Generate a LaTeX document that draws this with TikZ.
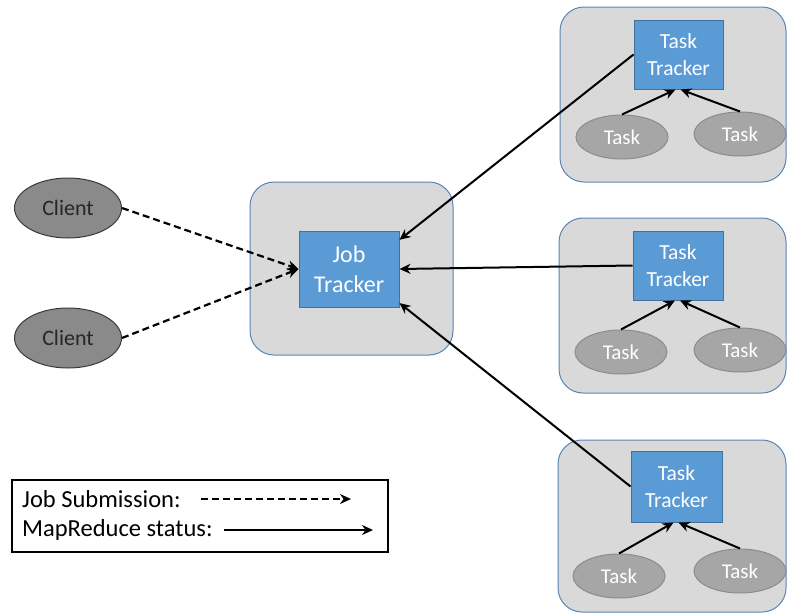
\documentclass[tikz,border=0pt]{standalone}
\usepackage{fontspec}
\setmainfont{Carlito}
\usetikzlibrary{arrows.meta,calc,shapes.geometric}
\definecolor{boxgray}{HTML}{D9D9D9}
\definecolor{boxedge}{HTML}{5A86B4}
\definecolor{trackfill}{HTML}{5B9BD5}
\definecolor{trackedge}{HTML}{41719C}
\definecolor{clientfill}{HTML}{8A8A8A}
\definecolor{clientedge}{HTML}{3A3A3A}
\definecolor{taskfill}{HTML}{A6A6A6}
\definecolor{taskedge}{HTML}{8C8C8C}
\tikzset{
  x=1pt, y=-1pt,
  holder/.style={draw=boxedge, fill=boxgray, line width=1pt, rounded corners=24pt, inner sep=0pt},
  tracker/.style={draw=trackedge, fill=trackfill, line width=1pt, inner sep=0pt, text=white, align=center},
  client/.style={ellipse, draw=clientedge, fill=clientfill, line width=1pt, inner sep=0pt,
    minimum width=107pt, minimum height=60pt, font=\fontsize{22}{24}\selectfont, text=black!85},
  taskel/.style={ellipse, draw=taskedge, fill=taskfill, line width=1pt, inner sep=0pt,
    minimum width=92pt, minimum height=44pt, font=\fontsize{21}{24}\selectfont, text=white},
  status/.style={line width=2pt, -{Stealth[length=11pt,width=10pt]}},
  submit/.style={line width=2.2pt, dash pattern=on 7pt off 4pt, -{Stealth[length=11pt,width=10pt]}},
  legendtext/.style={anchor=west, inner sep=0pt, font=\fontsize{24.5}{26}\selectfont},
}
\begin{document}
\begin{tikzpicture}
\useasboundingbox (0,0) rectangle (788,613);

% job tracker and its holder
\node[holder, minimum width=203pt, minimum height=173pt] (jtbox) at (351.5,268.5) {};
\node[tracker, minimum width=100pt, minimum height=76pt, font=\fontsize{24}{30}\selectfont] (jt) at (349,269) {Job\\Tracker};

% racks with a task tracker and two tasks each
\node[holder, minimum width=226pt, minimum height=175pt] (rack1) at (673,94.5) {};
\node[holder, minimum width=227pt, minimum height=175pt] (rack2) at (672.5,305.5) {};
\node[holder, minimum width=228pt, minimum height=172pt] (rack3) at (672,526) {};

\node[tracker, minimum width=89pt, minimum height=69pt, font=\fontsize{21.5}{27}\selectfont] (tt1) at (678.5,54.5) {Task\\Tracker};
\node[tracker, minimum width=90pt, minimum height=69pt, font=\fontsize{21.5}{27}\selectfont] (tt2) at (678,265.5) {Task\\Tracker};
\node[tracker, minimum width=91pt, minimum height=71pt, font=\fontsize{21.5}{27}\selectfont] (tt3) at (676.5,486.5) {Task\\Tracker};

\node[taskel] (t1a) at (622,137) {Task};
\node[taskel] (t1b) at (740,134) {Task};
\node[taskel] (t2a) at (621,352) {Task};
\node[taskel] (t2b) at (740,350) {Task};
\node[taskel] (t3a) at (619,576) {Task};
\node[taskel] (t3b) at (740,571) {Task};

\draw[status] (t1a.north) -- ($(tt1.south)+(-3,0)$);
\draw[status] (t1b.north) -- ($(tt1.south)+(2,0)$);
\draw[status] (t2a.north) -- ($(tt2.south)+(-3,0)$);
\draw[status] (t2b.north) -- ($(tt2.south)+(2,0)$);
\draw[status] (t3a.north) -- ($(tt3.south)+(-3,0)$);
\draw[status] (t3b.north) -- ($(tt3.south)+(2,0)$);

% status reports to the job tracker
\draw[status] (tt1.west) -- (jt.30);
\draw[status] (tt2.west) -- (jt.east);
\draw[status] (tt3.west) -- (jt.-34);

% clients submitting jobs
\node[client] (c1) at (68,208) {Client};
\node[client] (c2) at (68,338) {Client};
\draw[submit] (c1.east) -- (jt.west);
\draw[submit] (c2.east) -- (jt.west);

% legend
\node[draw=black, line width=1.2pt, minimum width=376pt, minimum height=72pt, inner sep=0pt] (legend) at (200,516) {};
\node[legendtext] (l1) at (22,499) {Job Submission:};
\node[legendtext] (l2) at (22,530) {MapReduce status:};
\coordinate (d1) at (201,499);
\coordinate (d2) at (351,499);
\coordinate (s1) at (224,530);
\coordinate (s2) at (373,530);
\draw[submit] (d1) -- (d2);
\draw[status] (s1) -- (s2);
\end{tikzpicture}
\end{document}
